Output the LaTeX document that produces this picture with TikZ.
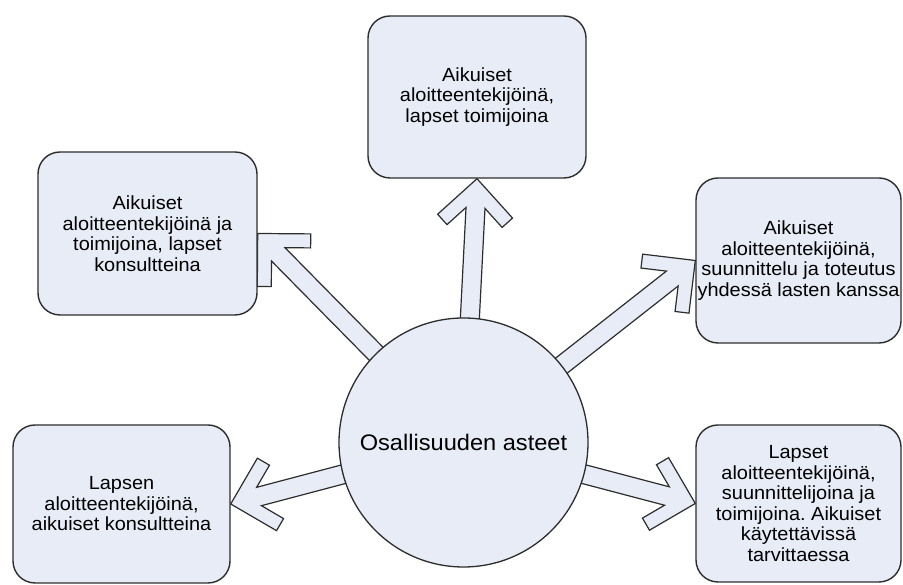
\documentclass[tikz,border=0pt]{standalone}
\usepackage{fontspec}
\setmainfont{Liberation Sans}[FakeStretch=1.05]
\usetikzlibrary{calc,backgrounds}
\frenchspacing
\definecolor{boxfill}{RGB}{231,236,246}
\definecolor{edgecol}{RGB}{45,45,45}
\tikzset{
  x=1pt, y=1pt,
  box/.style={draw=edgecol, line width=1.4pt, fill=boxfill, rounded corners=22pt,
    align=center, inner sep=0pt, font=\fontsize{19}{20.5}\selectfont},
  hub/.style={circle, draw=edgecol, line width=1.3pt, fill=boxfill,
    minimum size=249pt, inner sep=0pt, font=\fontsize{22.5}{26}\selectfont},
  arrowline/.style={draw=edgecol, line width=1.2pt, fill=boxfill, line join=miter},
}
% open block arrow from the hub node (#1) to a tip point (#2)
\newcommand\openarrow[2]{%
  \path let \p1=(#2), \p2=(#1.center),
    \n1={atan2(\y2-\y1,\x2-\x1)}, \n2={veclen(\x2-\x1,\y2-\y1)} in
    \pgfextra{\pgfmathsetmacro\tmpang{\n1}\xdef\arrang{\tmpang}%
              \pgfmathsetmacro\tmplen{\n2-112}\xdef\arrlen{\tmplen}};
  \draw[arrowline, shift={(#2)}, rotate=\arrang]
    (0,0) -- (37.5,37.5) -- (47.4,27.6) -- (29.3,9.5) -- (\arrlen,9.5)
    -- (\arrlen,-9.5) -- (29.3,-9.5) -- (47.4,-27.6) -- (37.5,-37.5) -- cycle;
}
\begin{document}
\begin{tikzpicture}
\useasboundingbox (0,0) rectangle (903,585);

\node[hub] (hub) at (463.5,142.5) {Osallisuuden asteet};

\node[box, minimum width=218pt, minimum height=162pt] (top) at (477,488)
  {Aikuiset\\aloitteentekijöinä,\\lapset toimijoina};
\node[box, minimum width=219pt, minimum height=163pt] (ul) at (147.5,351.5)
  {Aikuiset\\aloitteentekijöinä ja\\toimijoina, lapset\\konsultteina};
\node[box, minimum width=205pt, minimum height=165pt] (rt) at (798.5,324.5)
  {Aikuiset\\aloitteentekijöinä,\\suunnittelu ja toteutus\\yhdessä lasten kanssa};
\node[box, minimum width=217pt, minimum height=158pt] (ll) at (121.5,81)
  {Lapsen\\aloitteentekijöinä,\\aikuiset konsultteina};
\node[box, minimum width=205pt, minimum height=157pt] (lr) at (798.5,81.5)
  {Lapset\\aloitteentekijöinä,\\suunnittelijoina ja\\toimijoina. Aikuiset\\käytettävissä\\tarvittaessa};

\begin{scope}[on background layer]
  \openarrow{hub}{top.south}
  \openarrow{hub}{ul.east}
  \openarrow{hub}{rt.west}
  \openarrow{hub}{ll.east}
  \openarrow{hub}{lr.west}
\end{scope}
\end{tikzpicture}
\end{document}
